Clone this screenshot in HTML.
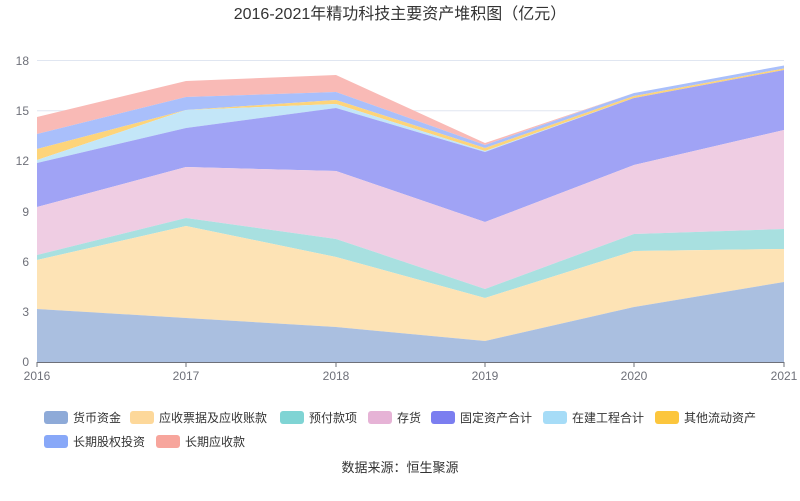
<!DOCTYPE html>
<html><head><meta charset="utf-8"><style>body{margin:0;background:#fff}svg{display:block}text{font-family:"Liberation Sans","Noto Sans CJK SC",sans-serif}</style></head><body>
<svg width="800" height="501" viewBox="0 0 800 501">
<text x="400" y="19" text-anchor="middle" font-size="16" fill="#333">2016-2021年精功科技主要资产堆积图（亿元）</text>
<g stroke="#e0e6f1" stroke-width="1">
<line x1="37" y1="60.5" x2="784" y2="60.5"/><line x1="37" y1="110.8" x2="784" y2="110.8"/><line x1="37" y1="161.2" x2="784" y2="161.2"/><line x1="37" y1="211.5" x2="784" y2="211.5"/><line x1="37" y1="261.8" x2="784" y2="261.8"/><line x1="37" y1="312.2" x2="784" y2="312.2"/>
</g>
<g font-size="12" fill="#6e7079" text-anchor="end">
<text x="29" y="65">18</text><text x="29" y="115">15</text><text x="29" y="165">12</text><text x="29" y="216">9</text><text x="29" y="266">6</text><text x="29" y="316">3</text><text x="29" y="366">0</text>
</g>
<g fill-opacity="1">
<polygon fill="#f9bab6" points="37,117 186,81 336,75 485,143 634,93 784,65 784,65 634,93 485,145 336,92 186,97 37,134"/>
<polygon fill="#a9bffb" points="37,134 186,97 336,92 485,145 634,93 784,65.5 784,68.5 634,96 485,148 336,100 186,110 37,149"/>
<polygon fill="#fdd47a" points="37,149 186,110 336,100 485,148 634,96 784,68.5 784,70 634,98 485,151 336,104 186,110 37,160"/>
<polygon fill="#c3e6f8" points="37,160 186,110 336,104 485,151 634,98 784,70 784,70 634,98 485,152 336,108 186,128 37,163"/>
<polygon fill="#a0a3f5" points="37,163 186,128 336,108 485,152 634,98 784,70 784,130 634,165 485,222 336,171 186,167 37,207"/>
<polygon fill="#efcde3" points="37,207 186,167 336,171 485,222 634,165 784,130 784,229 634,234 485,289 336,239 186,218 37,255"/>
<polygon fill="#a8e0e0" points="37,255 186,218 336,239 485,289 634,234 784,229 784,249 634,251 485,298 336,257 186,226 37,260"/>
<polygon fill="#fde3b5" points="37,260 186,226 336,257 485,298 634,251 784,249 784,282 634,307 485,341 336,327 186,318 37,309"/>
<polygon fill="#aabfe0" points="37,309 186,318 336,327 485,341 634,307 784,282 784,362 37,362"/>
</g>
<line x1="37" y1="362.5" x2="784" y2="362.5" stroke="#6e7079"/>
<g stroke="#6e7079"><line x1="37" y1="362" x2="37" y2="367"/><line x1="186" y1="362" x2="186" y2="367"/><line x1="336" y1="362" x2="336" y2="367"/><line x1="485" y1="362" x2="485" y2="367"/><line x1="634" y1="362" x2="634" y2="367"/><line x1="784" y1="362" x2="784" y2="367"/></g>
<g font-size="12" fill="#6e7079" text-anchor="middle">
<text x="37" y="380">2016</text><text x="186" y="380">2017</text><text x="336" y="380">2018</text><text x="485" y="380">2019</text><text x="634" y="380">2020</text><text x="784" y="380">2021</text>
</g>
<g font-size="12" fill="#333">
<rect x="44" y="411" width="24" height="13" rx="3" fill="#8eaad8"/><text x="73" y="422">货币资金</text>
<rect x="130" y="411" width="24" height="13" rx="3" fill="#fdd89a"/><text x="159" y="422">应收票据及应收账款</text>
<rect x="280" y="411" width="24" height="13" rx="3" fill="#7fd4d4"/><text x="309" y="422">预付款项</text>
<rect x="368" y="411" width="24" height="13" rx="3" fill="#e6b3d6"/><text x="397" y="422">存货</text>
<rect x="431" y="411" width="24" height="13" rx="3" fill="#7b7ef0"/><text x="460" y="422">固定资产合计</text>
<rect x="543" y="411" width="24" height="13" rx="3" fill="#a6dcf7"/><text x="572" y="422">在建工程合计</text>
<rect x="655" y="411" width="24" height="13" rx="3" fill="#fcc63d"/><text x="684" y="422">其他流动资产</text>
<rect x="44" y="435" width="24" height="13" rx="3" fill="#88a8f8"/><text x="73" y="446">长期股权投资</text>
<rect x="156" y="435" width="24" height="13" rx="3" fill="#f7a59c"/><text x="185" y="446">长期应收款</text>
</g>
<text x="400" y="472" text-anchor="middle" font-size="13" fill="#333">数据来源：恒生聚源</text>
</svg>
</body></html>
